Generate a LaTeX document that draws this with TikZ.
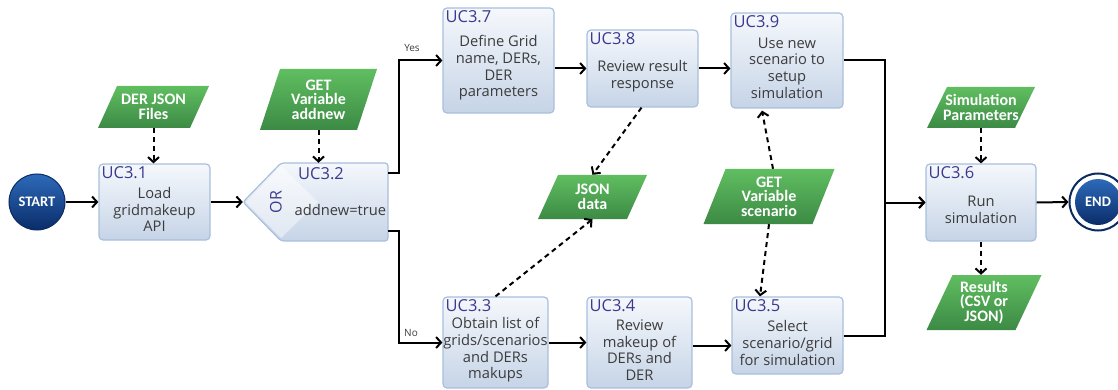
\documentclass[tikz,border=0pt]{standalone}
\usepackage{fontspec}
\setmainfont{Open Sans}
\newfontfamily\carlito{Carlito}
\usetikzlibrary{arrows.meta,calc}

\definecolor{ucblue}{HTML}{3B3A8E}
\definecolor{boxtop}{HTML}{F5F8FC}
\definecolor{boxbot}{HTML}{C6D4E7}
\definecolor{boxline}{HTML}{A9BFDB}
\definecolor{txtgray}{HTML}{3C3C3C}
\definecolor{greentop}{HTML}{60BE60}
\definecolor{greenbot}{HTML}{3C8A45}
\definecolor{navytop}{HTML}{2D6AB9}
\definecolor{navybot}{HTML}{0A2C69}
\definecolor{navyline}{HTML}{0B2A62}

\tikzset{
  ucbox/.style={draw=boxline, line width=1.2pt, rounded corners=4pt,
    top color=boxtop, bottom color=boxbot, inner sep=0pt},
  uclabel/.style={anchor=base west, text=ucblue, inner sep=0pt,
    font=\fontsize{16.5}{16.5}\selectfont},
  uctext/.style={align=center, text=txtgray, inner sep=0pt,
    font=\fontsize{14.7}{16.6}\selectfont},
  datatext/.style={align=center, text=white, inner sep=0pt,
    font=\carlito\bfseries\fontsize{16}{14.6}\selectfont},
  greenfill/.style={top color=greentop, bottom color=greenbot},
  terminal/.style={circle, inner sep=0pt, text=white,
    font=\carlito\bfseries\fontsize{14.5}{14.5}\selectfont},
  branchlabel/.style={text=txtgray, inner sep=0pt,
    font=\fontsize{10}{10}\selectfont},
  flow/.style={line width=2pt,
    -{Straight Barb[length=5pt,width=11pt,line width=2pt]}},
  dataflow/.style={line width=2pt, dash pattern=on 5pt off 4pt,
    -{Straight Barb[length=5pt,width=11pt,line width=2pt]}},
  link/.style={line width=2pt},
}

% process box: name, cx, cy, width, height, id, text
\newcommand\ucstep[7]{%
  \node[ucbox, minimum width=#4pt, minimum height=#5pt] (#1) at (#2,#3) {};
  \node[uclabel] (#1-id) at ($(#1.north west)+(3,15)$) {#6};
  \node[uctext] (#1-txt) at ($(#1.center)+(0,7.5)$) {#7};
}

% data parallelogram: name, cx, cy, edge width, height, slant offset, text
\newcommand\datashape[7]{%
  \shade[greenfill] ($(#2,#3)+({-#4/2-#6/2},{#5/2})$) -- ++(#4,0)
    -- ++(#6,-#5) -- ++(-#4,0) -- cycle;
  \node[datatext, minimum width=#4pt, minimum height=#5pt] (#1) at (#2,#3) {#7};
}

\begin{document}
\begin{tikzpicture}[x=1pt,y=-1pt]
\useasboundingbox (0,0) rectangle (1118,390);

% start / end terminals
\node[terminal, minimum size=56pt, top color=navytop, bottom color=navybot,
      draw=navyline, line width=1pt] (start) at (37,202) {START};
\node[circle, minimum size=57pt, fill=white, draw=navyline, line width=2pt,
      inner sep=0pt] (endring) at (1098,202) {};
\node[terminal, minimum size=46pt, top color=navytop, bottom color=navybot]
      (end) at (1098,202) {END};

% process steps
\ucstep{uc31}{154.5}{202}{111}{76}{UC3.1}{Load\\gridmakeup\\API}
\ucstep{uc37}{498.5}{60.5}{111}{105}{UC3.7}{Define Grid\\name, DERs,\\DER\\parameters}
\ucstep{uc38}{642.5}{68.5}{111}{77}{UC3.8}{Review result\\response}
\ucstep{uc39}{787}{60.5}{112}{95}{UC3.9}{Use new\\scenario to\\setup\\simulation}
\ucstep{uc33}{495.5}{342.5}{105}{91}{UC3.3}{Obtain list of\\grids/scenarios\\and DERs\\makups}
\ucstep{uc34}{639.5}{342.5}{105}{91}{UC3.4}{Review\\makeup of\\DERs and\\DER}
\ucstep{uc35}{787.5}{335.5}{111}{77}{UC3.5}{Select\\scenario/grid\\for simulation}
\ucstep{uc36}{981}{202.5}{110}{77}{UC3.6}{Run\\simulation}

% decision UC3.2
\shade[top color=boxtop, bottom color=boxbot, draw=boxline, line width=1.2pt,
       rounded corners=3pt]
  (243,202) -- (281,163) -- (388,163) -- (388,241) -- (281,241) -- cycle;
\fill[white, opacity=0.45] (246,202) -- (281,166) -- (318,202) -- (281,238) -- cycle;
\node[minimum width=145pt, minimum height=78pt, inner sep=0pt] (dec) at (315.5,202) {};
\node[uclabel] (dec-id) at (298,179) {UC3.2};
\node[rotate=90, text=ucblue, inner sep=0pt,
      font=\fontsize{16}{16}\selectfont] (dec-or) at (276,202) {OR};
\node[anchor=base west, text=txtgray, inner sep=0pt,
      font=\fontsize{14.7}{16.6}\selectfont] (dec-txt) at (294.5,215) {addnew=true};

% data items
\datashape{derjson}{153.5}{107}{92}{42}{19}{DER JSON\\Files}
\datashape{addnew}{318.5}{99.5}{97}{61}{20}{GET\\Variable\\addnew}
\datashape{jsondata}{592.5}{197}{89}{44}{20}{JSON\\data}
\datashape{scen}{769}{196.5}{109}{55}{22}{GET\\Variable\\scenario}
\datashape{simpar}{981}{107.5}{88}{41}{20}{Simulation\\Parameters}
\datashape{results}{984}{302.5}{89}{55}{26}{Results\\(CSV or\\JSON)}

% control flow
\draw[flow] (start) -- (uc31);
\draw[flow] (uc31.east) -- (dec.west);
\draw[flow] ($(dec.north east)+(0,10)$) -- ++(11,0) |- (uc37.west);
\draw[flow] ($(dec.south east)+(0,-10)$) -- ++(11,0) |- (uc33.west);
\node[branchlabel] (yes) at (412,48) {Yes};
\node[branchlabel] (no) at (411,333) {No};
\draw[flow] (uc38.west -| uc37.east) -- (uc38.west);
\draw[flow] (uc38.east) -- (uc38.east -| uc39.west);
\draw[flow] (uc33.east) -- (uc34.west);
\draw[flow] ($(uc34.east)+(0,3)$) -- ($(uc34.east -| uc35.west)+(0,3)$);
\draw[flow] (uc39.east) -- ++(41,0) |- (uc36.west);
\draw[flow] (uc35.east) -- ++(41,0) |- (uc36.west);
\draw[flow] (uc36.east) -- (endring.west);

% data flow
\draw[dataflow] (derjson.south) -- (derjson.south |- uc31.north);
\draw[dataflow] (addnew.south) -- (addnew.south |- dec.north);
\draw[dataflow] (simpar.south) -- (simpar.south |- uc36.north);
\draw[dataflow] (uc36.south) -- (uc36.south |- results.north);
\draw[dataflow] ($(uc38.south)+(-1,0)$) -- (jsondata.north);
\draw[dataflow] (uc33.north) -- (jsondata.south);
\draw[dataflow] ($(scen.north)+(4,0)$) -- ($(uc39.south)+(-25,2)$);
\draw[dataflow] (scen.south) -- ($(uc35.north)+(-27.5,0)$);
\end{tikzpicture}
\end{document}
